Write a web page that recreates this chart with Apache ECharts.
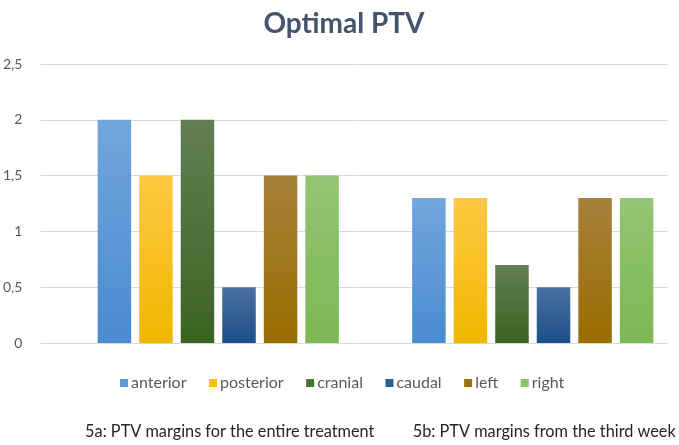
<!DOCTYPE html>
<html>
<head>
<meta charset="utf-8">
<script src="https://cdn.jsdelivr.net/npm/echarts@6/dist/echarts.min.js"></script>
<style>html,body{margin:0;padding:0;background:#fff}#c{width:679px;height:445px}</style>
</head>
<body>
<div id="c"></div>
<script>
var categories = ['5a: PTV margins for the entire treatment', '5b: PTV margins from the third week'];
var seriesNames = ['anterior', 'posterior', 'cranial', 'caudal', 'left', 'right'];
var anterior = [2, 1.3];
var posterior = [1.5, 1.3];
var cranial = [2, 0.7];
var caudal = [0.5, 0.5];
var left = [1.5, 1.3];
var right = [1.5, 1.3];
var yTicks = [0, 0.5, 1, 1.5, 2, 2.5];

var values = [anterior, posterior, cranial, caudal, left, right];
var gradTop = ['#72a6dd', '#ffc842', '#627f52', '#4b6f9f', '#a5813b', '#95c574'];
var gradBottom = ['#4a8bd1', '#f0b700', '#3a6322', '#1c4f88', '#9a6d00', '#7cb853'];
var solid = ['#5b9bd5', '#ffc000', '#4a7434', '#2a5d92', '#9e7300', '#8bc268'];

var chart = echarts.init(document.getElementById('c'));
var series = seriesNames.map(function (n, i) {
  return {
    name: n,
    type: 'bar',
    xAxisIndex: 1,
    yAxisIndex: 1,
    data: values[i],
    barWidth: 33.5,
    barGap: '24%',
    itemStyle: {
      color: new echarts.graphic.LinearGradient(0, 0, 0, 1, [
        {offset: 0, color: gradTop[i]},
        {offset: 1, color: gradBottom[i]}
      ])
    }
  };
});

chart.setOption({
  animation: false,
  title: {
    text: 'Optimal PTV',
    left: 339,
    textAlign: 'center',
    top: 5,
    textStyle: {fontFamily: 'Lato', fontWeight: 'bold', fontSize: 28, color: '#44546a'}
  },
  legend: {
    data: seriesNames.map(function (n, i) { return {name: n, itemStyle: {color: solid[i]}}; }),
    top: 370,
    left: 115,
    itemWidth: 8,
    itemHeight: 8,
    itemGap: 22.5,
    icon: 'rect',
    textStyle: {fontFamily: 'Lato', fontSize: 16, color: '#595959', padding: [0, 0, 0, -2]}
  },
  grid: [
    {left: 40, right: 11, top: 64, bottom: 102, containLabel: false},
    {left: 61, right: -11, top: 64, bottom: 102, containLabel: false, outerBoundsMode: 'none'}
  ],
  xAxis: [
    {gridIndex: 0, type: 'category', data: categories, axisLine: {show: false}, axisTick: {show: false}, axisLabel: {show: false}},
    {gridIndex: 1, type: 'category', data: categories, axisLine: {show: false}, axisTick: {show: false},
     axisLabel: {margin: 81, fontFamily: 'Lato', fontSize: 16.3, color: '#262626', padding: [0, 0, 0, 23], interval: 0}}
  ],
  yAxis: [
    {gridIndex: 0, type: 'value', min: 0, max: 2.5, interval: 0.5,
     axisLine: {show: false}, axisTick: {show: false},
     splitLine: {lineStyle: {color: '#d9d9d9', width: 1}},
     axisLabel: {margin: 18, fontFamily: 'Lato', fontSize: 14, color: '#595959',
       formatter: function (v) { return String(v).replace('.', ','); }}},
    {gridIndex: 1, type: 'value', min: 0, max: 2.5, interval: 0.5, show: false, splitLine: {show: false}}
  ],
  series: series
});
</script>
</body>
</html>
